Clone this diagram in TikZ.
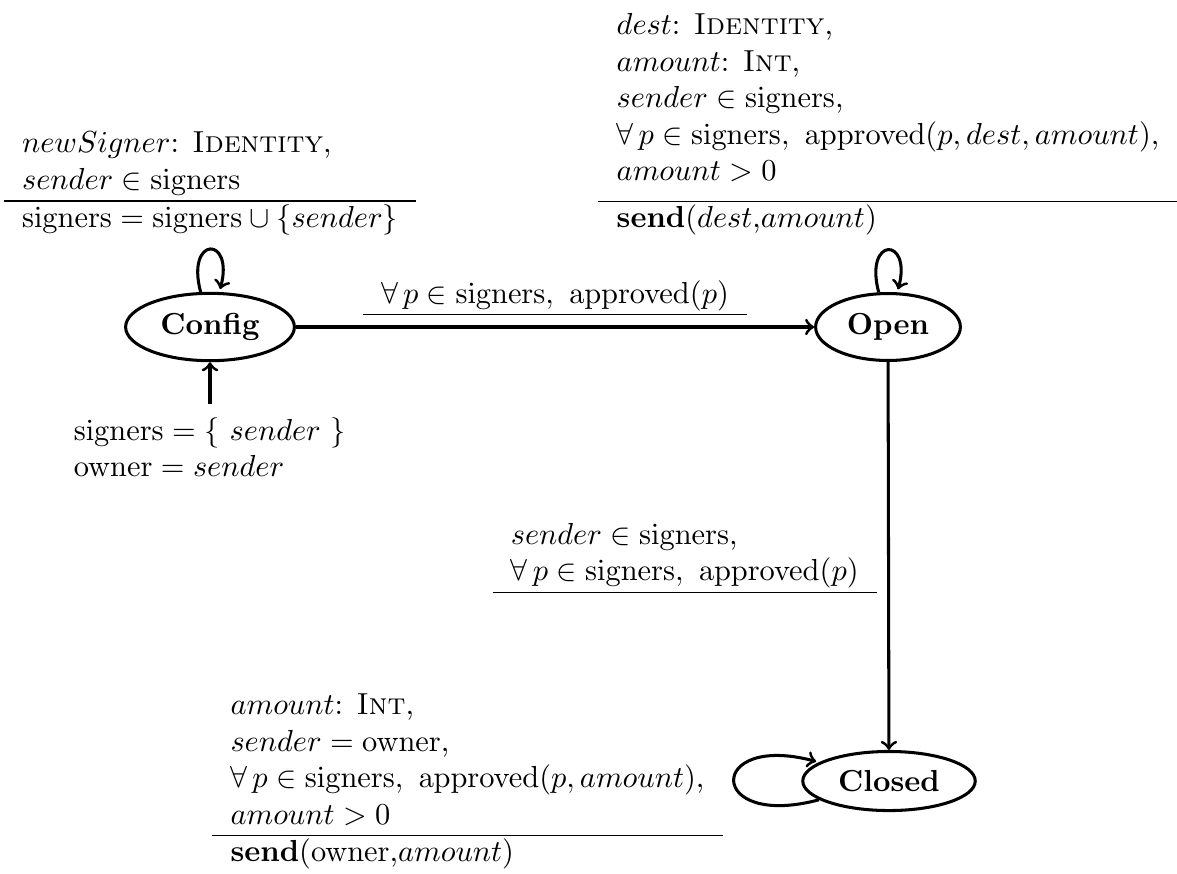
\documentclass[tikz,border=0pt]{standalone}
\usetikzlibrary{shapes.geometric}
\begin{document}
\begin{tikzpicture}[x=0.3289pt,y=0.3289pt,>=to,
  stt/.style={draw,ellipse,line width=1pt,inner sep=3.33pt},
  arr/.style={->,line width=1pt},
  lbl/.style={inner sep=3.33pt}]
\useasboundingbox (0,0) rectangle (1177,-873);
\node[stt] (C) at (210,-327) {\textbf{Config}};
\node[stt] (O) at (888,-327) {\textbf{Open}};
\node[stt] (X) at (889,-781) {\textbf{Closed}};
\node[lbl,anchor=north] (init) at (210,-404) {\begin{tabular}{l}
$\mathrm{signers} = \{\ sender\ \}$\\
$\mathrm{owner} = sender$
\end{tabular}};
\draw[arr] (init) -- (C);
\path (C) edge[arr,loop above] node[lbl,above] {\begin{tabular}{l}
$newSigner$: \textsc{Identity},\\
$sender \in \mathrm{signers}$\\\hline
$\mathrm{signers} = \mathrm{signers} \cup \{sender\}$
\end{tabular}} (C);
\draw[arr] (C) -- node[lbl,above] {\begin{tabular}{l}
$\forall\,p \in \mathrm{signers},\ \mathrm{approved}(p)$\\\hline
\end{tabular}} (O);
\path (O) edge[arr,loop above] node[lbl,above] {\begin{tabular}{l}
$dest$: \textsc{Identity},\\
$amount$: \textsc{Int},\\
$sender \in \mathrm{signers}$,\\
$\forall\,p \in \mathrm{signers},\ \mathrm{approved}(p, dest, amount)$,\\
$amount > 0$\\[3pt]\hline
\textbf{send}($dest$,$amount$)
\end{tabular}} (O);
\draw[arr] (O) -- node[lbl,left] {\begin{tabular}{l}
$sender \in \mathrm{signers}$,\\
$\forall\,p \in \mathrm{signers},\ \mathrm{approved}(p)$\\\hline
\end{tabular}} (X);
\path (X) edge[arr,loop left] node[lbl,left] {\begin{tabular}{l}
$amount$: \textsc{Int},\\
$sender = \mathrm{owner}$,\\
$\forall\,p \in \mathrm{signers},\ \mathrm{approved}(p, amount)$,\\
$amount > 0$\\\hline
\textbf{send}($\mathrm{owner}$,$amount$)
\end{tabular}} (X);
\end{tikzpicture}
\end{document}
